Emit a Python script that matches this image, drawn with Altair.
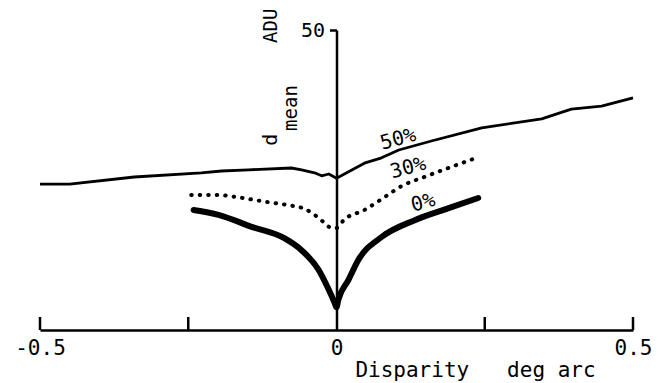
import altair as alt
import pandas as pd

# 50% curve (solid, thin)
x50 = [-0.500, -0.450, -0.341, -0.228, -0.194, -0.148, -0.076, -0.059, -0.037, -0.025,
       -0.013, 0.000, 0.047, 0.076, 0.105, 0.160, 0.245, 0.346, 0.396, 0.447, 0.500]
y50 = [24.3, 24.3, 25.5, 26.2, 26.5, 26.7, 27.0, 26.7, 26.2, 25.7,
       26.0, 25.3, 27.8, 28.7, 30.0, 31.5, 33.7, 35.2, 36.8, 37.3, 38.7]

# 30% curve (dotted)
x30 = [-0.245, -0.199, -0.172, -0.115, -0.081, -0.054, -0.037, -0.022, -0.008, 0.000,
       0.012, 0.047, 0.076, 0.110, 0.148, 0.194, 0.239]
y30 = [22.5, 22.5, 22.2, 21.3, 20.8, 20.2, 19.2, 18.0, 17.0, 17.0,
       18.3, 20.0, 21.8, 24.0, 25.5, 27.2, 28.8]

# 0% curve (thick)
x0 = [-0.241, -0.199, -0.143, -0.088, -0.059, -0.030, -0.013, -0.003, 0.000,
      0.003, 0.020, 0.037, 0.076, 0.132, 0.189, 0.239]
y0 = [20.0, 19.2, 17.2, 15.3, 13.3, 10.0, 6.7, 4.5, 3.8,
      5.0, 8.3, 11.7, 15.5, 18.3, 20.3, 22.0]

x_ticks_up = [-0.5, -0.25, 0.25, 0.5]
x_labels = [-0.5, 0, 0.5]
y_labels = [50]

curve_names = ["50%", "30%", "0%"]
curve_label_x = [0.104, 0.121, 0.146]
curve_label_y = [31.8, 27.0, 21.2]

FONT = "DejaVu Sans Mono"

df50 = pd.DataFrame({"x": x50, "y": y50})
df30 = pd.DataFrame({"x": x30, "y": y30})
df0 = pd.DataFrame({"x": x0, "y": y0})
dfticks = pd.DataFrame({"x": x_ticks_up})
dfcl = pd.DataFrame({"x": curve_label_x, "y": curve_label_y, "t": curve_names})

X = alt.X(
    "x:Q",
    scale=alt.Scale(domain=[-0.5, 0.5], nice=False, zero=False),
    axis=alt.Axis(
        values=x_labels,
        labelExpr="datum.value < 0 ? '-0.5' : (datum.value > 0 ? '0.5' : '0')",
        ticks=False,
        grid=False,
        domain=True,
        domainColor="black",
        domainWidth=2.5,
        labelFont=FONT,
        labelFontSize=21,
        labelColor="black",
        labelPadding=7,
        labelFlush=False,
        labelOverlap=False,
        title="Disparity\u00a0\u00a0\u00a0deg\u00a0arc",
        titleFont=FONT,
        titleFontSize=21,
        titleFontWeight="normal",
        titleColor="black",
        titleX=435,
        titleY=40,
        titleAlign="center",
        titleBaseline="middle",
    ),
)

Y = alt.Y(
    "y:Q",
    scale=alt.Scale(domain=[0, 50], nice=False, zero=True),
    axis=alt.Axis(
        values=y_labels,
        orient="left",
        offset=-296.5,
        grid=False,
        domain=True,
        domainColor="black",
        domainWidth=2.5,
        ticks=True,
        tickSize=7,
        tickWidth=2.5,
        tickColor="black",
        labelFont=FONT,
        labelFontSize=20,
        labelColor="black",
        labelPadding=5,
        title=None,
    ),
)

line50 = alt.Chart(df50).mark_line(color="black", strokeWidth=2.8, strokeJoin="round").encode(
    x=X, y=Y, order="x:Q"
)
line30 = alt.Chart(df30).mark_line(
    color="black", strokeWidth=4, strokeDash=[0.5, 8], strokeCap="round", interpolate="monotone"
).encode(x=X, y=Y, order="x:Q")
line0 = alt.Chart(df0).mark_line(
    color="black", strokeWidth=6, strokeCap="round", strokeJoin="round", interpolate="monotone"
).encode(x=X, y=Y, order="x:Q")

ticks = alt.Chart(dfticks).mark_rule(color="black", strokeWidth=2.5).encode(
    x=X, y=alt.value(300), y2=alt.value(287)
)

curve_text = alt.Chart(dfcl).mark_text(
    font=FONT, fontSize=20, angle=345, color="black", align="center", baseline="middle"
).encode(x=X, y=Y, text="t:N")

adu = alt.Chart(pd.DataFrame({"x": [-0.110], "y": [50.7], "t": ["ADU"]})).mark_text(
    font=FONT, fontSize=19, angle=270, color="black", align="center", baseline="middle"
).encode(x=X, y=Y, text="t:N")

d_main = alt.Chart(pd.DataFrame({"x": [-0.110], "y": [31.7], "t": ["d"]})).mark_text(
    font=FONT, fontSize=20, angle=270, color="black", align="center", baseline="middle"
).encode(x=X, y=Y, text="t:N")

d_sub = alt.Chart(pd.DataFrame({"x": [-0.077], "y": [37.0], "t": ["mean"]})).mark_text(
    font=FONT, fontSize=19, angle=270, color="black", align="center", baseline="middle"
).encode(x=X, y=Y, text="t:N")

chart = alt.layer(line50, line30, line0, ticks, curve_text, adu, d_main, d_sub).properties(
    width=593,
    height=300,
    autosize=alt.AutoSizeParams(type="none"),
    padding={"left": 40, "top": 30, "right": 31, "bottom": 53},
    background="white",
).configure_view(stroke=None)

chart.save("out.html", embed_options={"renderer": "svg", "actions": False})
